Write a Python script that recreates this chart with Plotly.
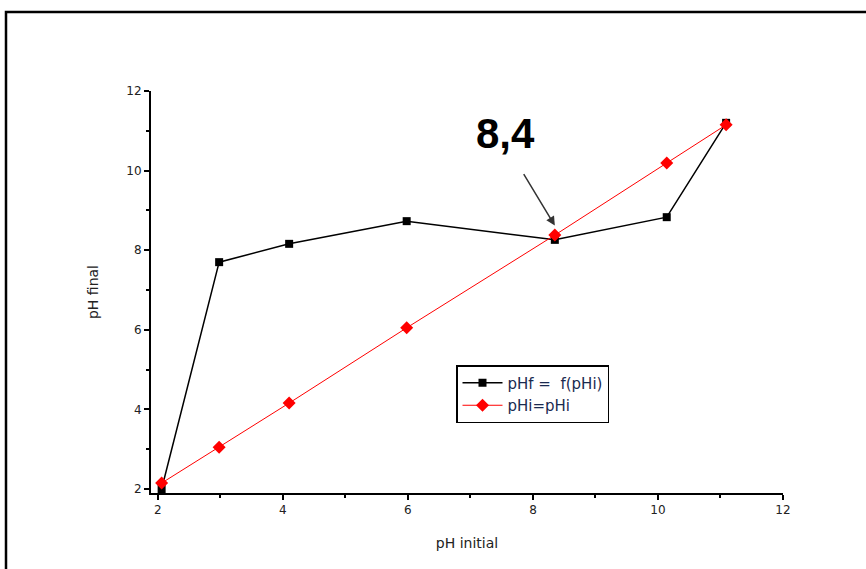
import plotly.graph_objects as go

ph_initial = [2.06, 2.98, 4.10, 5.98, 8.35, 10.14, 11.09]
ph_final = [2.00, 7.70, 8.16, 8.73, 8.26, 8.83, 11.20]
ph_identity = [2.15, 3.05, 4.16, 6.05, 8.38, 10.19, 11.15]

x_ticks = [2, 4, 6, 8, 10, 12]
y_ticks = [2, 4, 6, 8, 10, 12]

PL, PR, PT, PB = 151, 83, 91, 76
W, H = 866, 569
pw, ph = W - PL - PR, H - PT - PB

def px(x):
    return (x - PL) / pw

def py(y):
    return (H - PB - y) / ph

font = "DejaVu Sans, Verdana, sans-serif"

fig = go.Figure()
fig.add_trace(go.Scatter(
    x=ph_initial, y=ph_final, mode="lines+markers", name="pHf =  f(pHi)",
    line=dict(color="black", width=1.5),
    marker=dict(symbol="square", size=8, color="black"),
))
fig.add_trace(go.Scatter(
    x=ph_initial, y=ph_identity, mode="lines+markers", name="pHi=pHi",
    line=dict(color="red", width=1),
    marker=dict(symbol="diamond", size=10, color="red"),
))

fig.update_layout(
    width=W, height=H,
    margin=dict(l=PL, r=PR, t=PT, b=PB),
    paper_bgcolor="white", plot_bgcolor="white",
    font=dict(family=font, size=12, color="#222222"),
    showlegend=True,
    legend=dict(
        x=px(456), y=py(365), xanchor="left", yanchor="top",
        bordercolor="black", borderwidth=1.5, bgcolor="white",
        font=dict(size=15, color="#1a2a50"),
        tracegroupgap=0, itemwidth=40,
    ),
    xaxis=dict(
        range=[1.89, 12], tickvals=x_ticks, ticks="outside", ticklen=5,
        tickwidth=1.5, tickcolor="black", showline=True, linecolor="black",
        linewidth=2, showgrid=False, zeroline=False,
        minor=dict(ticks="outside", ticklen=3, tickwidth=1.5, tickcolor="black", dtick=1),
        title=dict(text="pH initial", font=dict(size=14), standoff=22),
        tickfont=dict(size=12),
    ),
    yaxis=dict(
        range=[1.9, 12], tickvals=y_ticks, ticks="outside", ticklen=5,
        tickwidth=1.5, tickcolor="black", showline=True, linecolor="black",
        linewidth=2, showgrid=False, zeroline=False,
        minor=dict(ticks="outside", ticklen=3, tickwidth=1.5, tickcolor="black", dtick=1),
        title=dict(text="pH final", font=dict(size=14), standoff=24),
        tickfont=dict(size=12),
    ),
)

fig.add_shape(type="rect", xref="paper", yref="paper",
              x0=px(6), x1=px(872), y0=py(578), y1=py(12),
              line=dict(color="black", width=2.5), layer="above")

fig.add_annotation(
    x=8.35, y=8.62, xref="x", yref="y",
    ax=-32, ay=-53, axref="pixel", ayref="pixel",
    showarrow=True, arrowhead=2, arrowsize=1.2, arrowwidth=1.5, arrowcolor="#333333",
    text="",
)
fig.add_annotation(
    x=px(505), y=py(133), xref="paper", yref="paper", xanchor="center", yanchor="middle",
    text="<b>8,4</b>", showarrow=False,
    font=dict(family="Liberation Sans, Arial, sans-serif", size=42, color="black"),
)

fig.write_html("out.html")
